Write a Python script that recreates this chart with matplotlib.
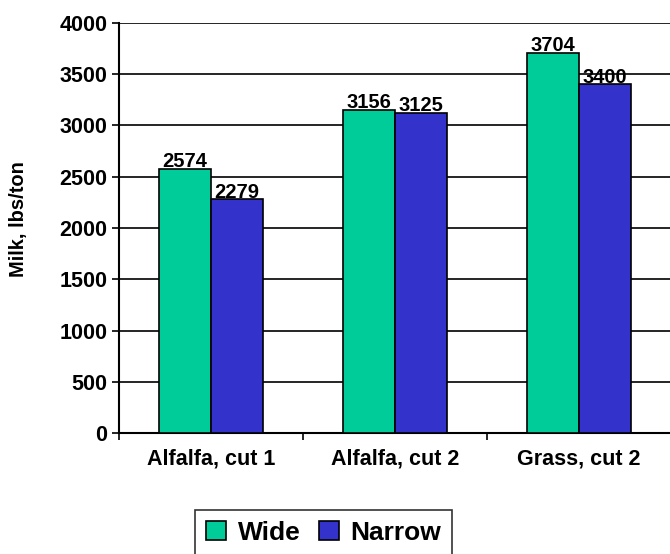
import matplotlib.pyplot as plt
import numpy as np

plt.rcParams['font.family'] = ['Liberation Sans', 'DejaVu Sans']
plt.rcParams['font.weight'] = 'bold'

categories = ["Alfalfa, cut 1", "Alfalfa, cut 2", "Grass, cut 2"]
wide = [2574, 3156, 3704]
narrow = [2279, 3125, 3400]
series_names = ["Wide", "Narrow"]

fig = plt.figure(figsize=(6.7, 5.54), dpi=100)
ax = fig.add_axes([0.1776, 0.2184, 0.824, 0.7401])

x = np.arange(len(categories))
w = 0.283
b1 = ax.bar(x - w / 2, wide, w, color="#00CC99", edgecolor="black", linewidth=1.2, label=series_names[0], zorder=3)
b2 = ax.bar(x + w / 2, narrow, w, color="#3333CC", edgecolor="black", linewidth=1.2, label=series_names[1], zorder=3)

# labels sit just above each bar
for bars, vals in [(b1, wide), (b2, narrow)]:
    for r, v in zip(bars, vals):
        ax.text(r.get_x() + r.get_width() / 2, v + 18, str(v), ha="center", va="baseline",
                fontsize=14.5, fontweight="bold")

ax.set_xlim(-0.5, 2.5)
ax.set_ylim(0, 4000)
ax.set_yticks(np.arange(0, 4001, 500))
ax.yaxis.grid(True, color="black", linewidth=1.2, zorder=0)
ax.set_xticks(x)
ax.set_xticklabels(categories, fontsize=15.5, fontweight="bold")
ax.set_xticks([-0.5, 0.5, 1.5, 2.5], minor=True)
ax.tick_params(axis="x", which="major", length=0, pad=11)
ax.tick_params(axis="x", which="minor", length=5, width=1.2, direction="out")
ax.tick_params(axis="y", length=5, width=1.2, labelsize=15.5)
for lbl in ax.get_yticklabels():
    lbl.set_fontweight("bold")

ax.spines["top"].set_visible(False)
ax.spines["right"].set_visible(False)
ax.spines["left"].set_linewidth(1.5)
ax.spines["bottom"].set_linewidth(1.5)

ax.set_ylabel("Milk, lbs/ton", fontsize=14.5, fontweight="bold")
ax.yaxis.set_label_coords(-0.165, 0.523)

leg = fig.legend(loc="center", bbox_to_anchor=(323.5 / 670, 1 - 533 / 554), ncol=2,
                 frameon=True, fancybox=False, edgecolor="black",
                 handlelength=0.75, handleheight=0.75, handletextpad=0.45, columnspacing=0.7,
                 borderpad=0.4, borderaxespad=0, prop={"weight": "bold", "size": 19})
leg.get_frame().set_linewidth(1.2)

fig.savefig("out.png", dpi=100)
